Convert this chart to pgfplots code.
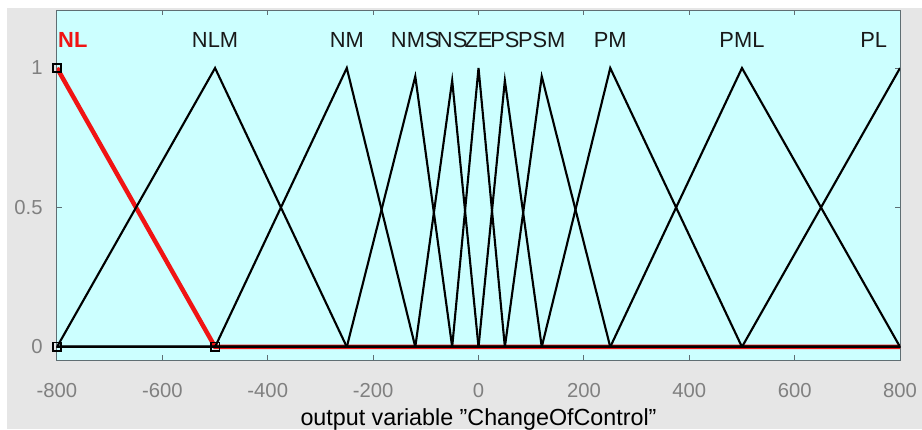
\documentclass[border=0pt]{standalone}
\usepackage{pgfplots}
\pgfplotsset{compat=1.18}
\usepackage{fontspec}
\setmainfont{Liberation Sans}

\definecolor{figbg}{RGB}{230,230,230}
\definecolor{axbg}{RGB}{204,255,255}
\definecolor{axline}{RGB}{95,110,115}
\definecolor{ticktext}{RGB}{128,128,128}
\definecolor{mfred}{RGB}{240,20,20}

\begin{document}
\begin{tikzpicture}
  \fill[white] (0,0) rectangle (16,7.445);
  \fill[figbg] (0.12,0) rectangle (16,7.306);
  \begin{axis}[
      scale only axis,
      width=14.63cm, height=6.074cm,
      at={(0.989cm,1.197cm)}, anchor=south west,
      xmin=-800, xmax=800, ymin=-0.047, ymax=1.208,
      xtick={-800,-600,...,800},
      ytick={0,0.5,1},
      tick align=inside,
      tick pos=both,
      major tick length=0.09cm,
      axis line style={axline, line width=0.5pt},
      every tick/.style={axline, line width=0.5pt},
      axis background/.style={fill=axbg},
      /pgf/number format/assume math mode=true,
      ticklabel style={font=\fontsize{10}{12}\selectfont, text=ticktext},
      xticklabel style={anchor=base, yshift=-0.642cm},
      yticklabel style={anchor=east, xshift=-0.126cm},
      xlabel={output variable {\char34}ChangeOfControl{\char34}},
      xlabel style={at={(axis description cs:0.5,0)}, anchor=base,
                    yshift=-1.128cm, font=\fontsize{11.5}{13}\selectfont},
      clip=true,
    ]
    % NL (selected)
    \addplot[mfred, line width=2.2pt] coordinates {(-800,1) (-500,0) (800,0)};
    % NLM
    \addplot[black, line width=1.05pt] coordinates {(-800,0) (-500,1) (-250,0) (800,0)};
    % NM
    \addplot[black, line width=1.05pt] coordinates {(-800,0) (-500,0) (-250,1) (-120,0) (800,0)};
    % NMS
    \addplot[black, line width=1.05pt] coordinates {(-800,0) (-250,0) (-120,0.97) (-50,0) (800,0)};
    % NS
    \addplot[black, line width=1.05pt] coordinates {(-800,0) (-120,0) (-50,0.955) (0,0) (800,0)};
    % ZE
    \addplot[black, line width=1.05pt] coordinates {(-800,0) (-50,0) (0,1) (50,0) (800,0)};
    % PS
    \addplot[black, line width=1.05pt] coordinates {(-800,0) (0,0) (50,0.955) (120,0) (800,0)};
    % PSM
    \addplot[black, line width=1.05pt] coordinates {(-800,0) (50,0) (120,0.97) (250,0) (800,0)};
    % PM
    \addplot[black, line width=1.05pt] coordinates {(-800,0) (120,0) (250,1) (500,0) (800,0)};
    % PML
    \addplot[black, line width=1.05pt] coordinates {(-800,0) (250,0) (500,1) (800,0)};
    % PL
    \addplot[black, line width=1.05pt] coordinates {(-800,0) (500,0) (800,1)};
    % markers of the selected function
    \addplot[only marks, mark=square, mark size=2pt, black, line width=0.6pt]
      coordinates {(-800,1) (-800,0) (-500,0)};

    \begin{scope}[every node/.style={anchor=base, inner sep=0pt,
                  font=\fontsize{10.8}{13}\selectfont, text={rgb,255:red,25;green,25;blue,25}}]
      \node[text=mfred, font=\fontsize{10.8}{13}\selectfont\bfseries] at (axis cs:-770,1.072) {NL};
      \node at (axis cs:-500,1.072) {NLM};
      \node at (axis cs:-250,1.072) {NM};
      \node at (axis cs:-120,1.072) {NMS};
      \node at (axis cs:-50,1.072) {NS};
      \node at (axis cs:0,1.072) {ZE};
      \node at (axis cs:50,1.072) {PS};
      \node at (axis cs:120,1.072) {PSM};
      \node at (axis cs:250,1.072) {PM};
      \node at (axis cs:500,1.072) {PML};
      \node at (axis cs:750,1.072) {PL};
    \end{scope}
  \end{axis}
  \pgfresetboundingbox
  \useasboundingbox (0,0) rectangle (16,7.445);
\end{tikzpicture}
\end{document}
